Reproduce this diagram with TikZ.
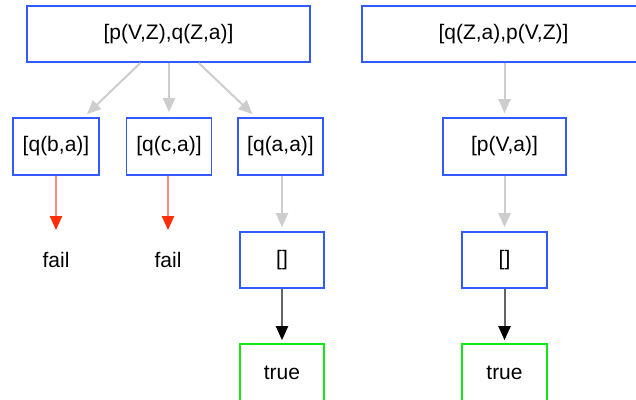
\documentclass[tikz,border=0pt]{standalone}
\usepackage{fontspec}
\setmainfont{Liberation Sans}
\usetikzlibrary{arrows.meta}
\definecolor{boxblue}{RGB}{50,90,255}
\definecolor{boxgreen}{RGB}{20,230,20}
\definecolor{edgegray}{RGB}{205,205,205}
\definecolor{edgered}{RGB}{255,140,130}
\definecolor{headred}{RGB}{255,45,10}
\definecolor{edgedark}{RGB}{100,100,100}
\begin{document}
\begin{tikzpicture}[x=1pt,y=-1pt,
  every node/.style={font=\fontsize{21}{25}\selectfont, inner sep=0pt},
  goal/.style={draw=boxblue, line width=1.6pt, minimum height=56pt},
  done/.style={draw=boxgreen, line width=1.6pt, minimum height=58pt},
  garrow/.style={draw=edgegray, line width=2pt, -{Triangle[length=14pt,width=12pt,color=edgegray]}},
  rarrow/.style={draw=edgered, line width=2pt, -{Triangle[length=14pt,width=12pt,color=headred]}},
  karrow/.style={draw=edgedark, line width=2pt, -{Triangle[length=14pt,width=12pt,color=black]}}]
\useasboundingbox (0,0) rectangle (636,399);
\clip (0,0) rectangle (636,399);
\node[goal, minimum width=283pt] (top1) at (168.5,34) {[p(V,Z),q(Z,a)]};
\node[goal, minimum width=283pt] (top2) at (503.5,34) {[q(Z,a),p(V,Z)]};
\node[goal, minimum width=86pt, minimum height=57pt] (qb) at (56,146.5) {[q(b,a)]};
\node[goal, minimum width=85pt, minimum height=57pt] (qc) at (169,146.5) {[q(c,a)]};
\node[goal, minimum width=85pt, minimum height=57pt] (qa) at (280.5,146.5) {[q(a,a)]};
\node[goal, minimum width=123pt, minimum height=57pt] (pva) at (504.5,146.5) {[p(V,a)]};
\node (fail1) at (56,260) {fail};
\node (fail2) at (168,260) {fail};
\node[goal, minimum width=84pt] (e1) at (282,260) {[]};
\node[goal, minimum width=85pt] (e2) at (504.5,260) {[]};
\node[done, minimum width=84pt] (t1) at (282,373) {true};
\node[done, minimum width=85pt] (t2) at (504.5,373) {true};
\draw[garrow] ([xshift=-28pt]top1.south) -- ([xshift=31pt,yshift=3pt]qb.north);
\draw[garrow] ([xshift=0.5pt]top1.south) -- ([yshift=5pt]qc.north);
\draw[garrow] ([xshift=30pt]top1.south) -- ([xshift=-28pt,yshift=3pt]qa.north);
\draw[rarrow] (qb.south) -- ([yshift=22pt]fail1.north);
\draw[rarrow] (qc.south -| fail2) -- ([yshift=22pt]fail2.north);
\draw[garrow] (qa.south -| e1) -- ([yshift=4pt]e1.north);
\draw[karrow] (e1.south) -- ([yshift=3pt]t1.north);
\draw[garrow] (top2.south -| pva) -- ([yshift=4pt]pva.north);
\draw[garrow] (pva.south -| e2) -- ([yshift=4pt]e2.north);
\draw[karrow] (e2.south) -- ([yshift=3pt]t2.north);
\end{tikzpicture}
\end{document}
